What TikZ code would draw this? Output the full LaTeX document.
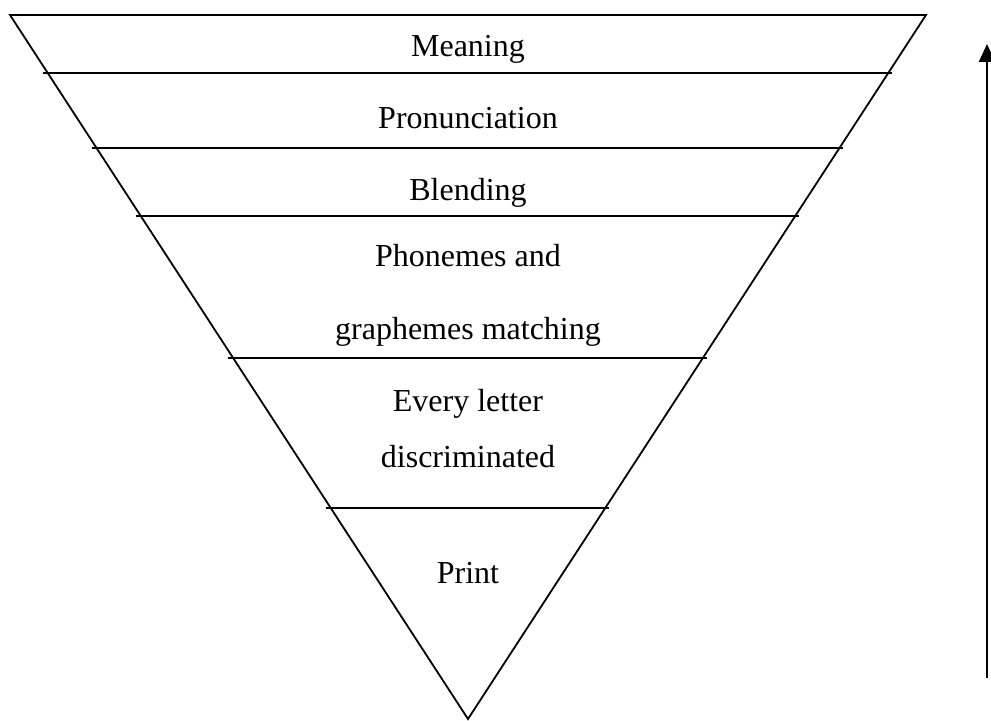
\documentclass[tikz,border=0pt]{standalone}
\usepackage{fontspec}
\setmainfont{Liberation Serif}
\usetikzlibrary{arrows.meta, calc}
\tikzset{
  lvltext/.style = {anchor=base, font=\fontsize{16}{19}\selectfont,
                    inner sep=0pt},
  pyredge/.style = {draw=black, line width=0.9pt, line join=miter},
  divline/.style = {draw=black, line width=0.9pt,
                    shorten <=-2.5pt, shorten >=-2pt},
  uparrow/.style = {-{Triangle[length=9pt, width=8pt]}, draw=black,
                    line width=1.2pt},
}

\begin{document}
\begin{tikzpicture}[x=0.5pt, y=-0.5pt]
  \useasboundingbox (0,0) rectangle (991,721);

  % inverted pyramid
  \coordinate (tl) at (10,15);
  \coordinate (tr) at (926,15);
  \coordinate (apex) at (468,719);
  \draw[pyredge] (tl) -- (tr) -- (apex) -- cycle;

  % level dividers
  \foreach \t in {0.0824, 0.1889, 0.2855, 0.4872, 0.7003}
    \draw[divline] ($(tl)!\t!(apex)$) -- ($(tr)!\t!(apex)$);

  % level labels
  \node[lvltext] (meaning) at (468,57)  {Meaning};
  \node[lvltext] (pron)    at (468,129) {Pronunciation};
  \node[lvltext] (blend)   at (468,201) {Blending};
  \node[lvltext] (phon)    at (468,267) {Phonemes and};
  \node[lvltext] (graph)   at (468,340) {graphemes matching};
  \node[lvltext] (every)   at (468,412) {Every letter};
  \node[lvltext] (discr)   at (468,468) {discriminated};
  \node[lvltext] (print)   at (468,583) {Print};

  % direction arrow
  \coordinate (arrlow) at (987,678);
  \coordinate (arrtop) at (987,44);
  \draw[uparrow] (arrlow) -- (arrtop);
\end{tikzpicture}
\end{document}
